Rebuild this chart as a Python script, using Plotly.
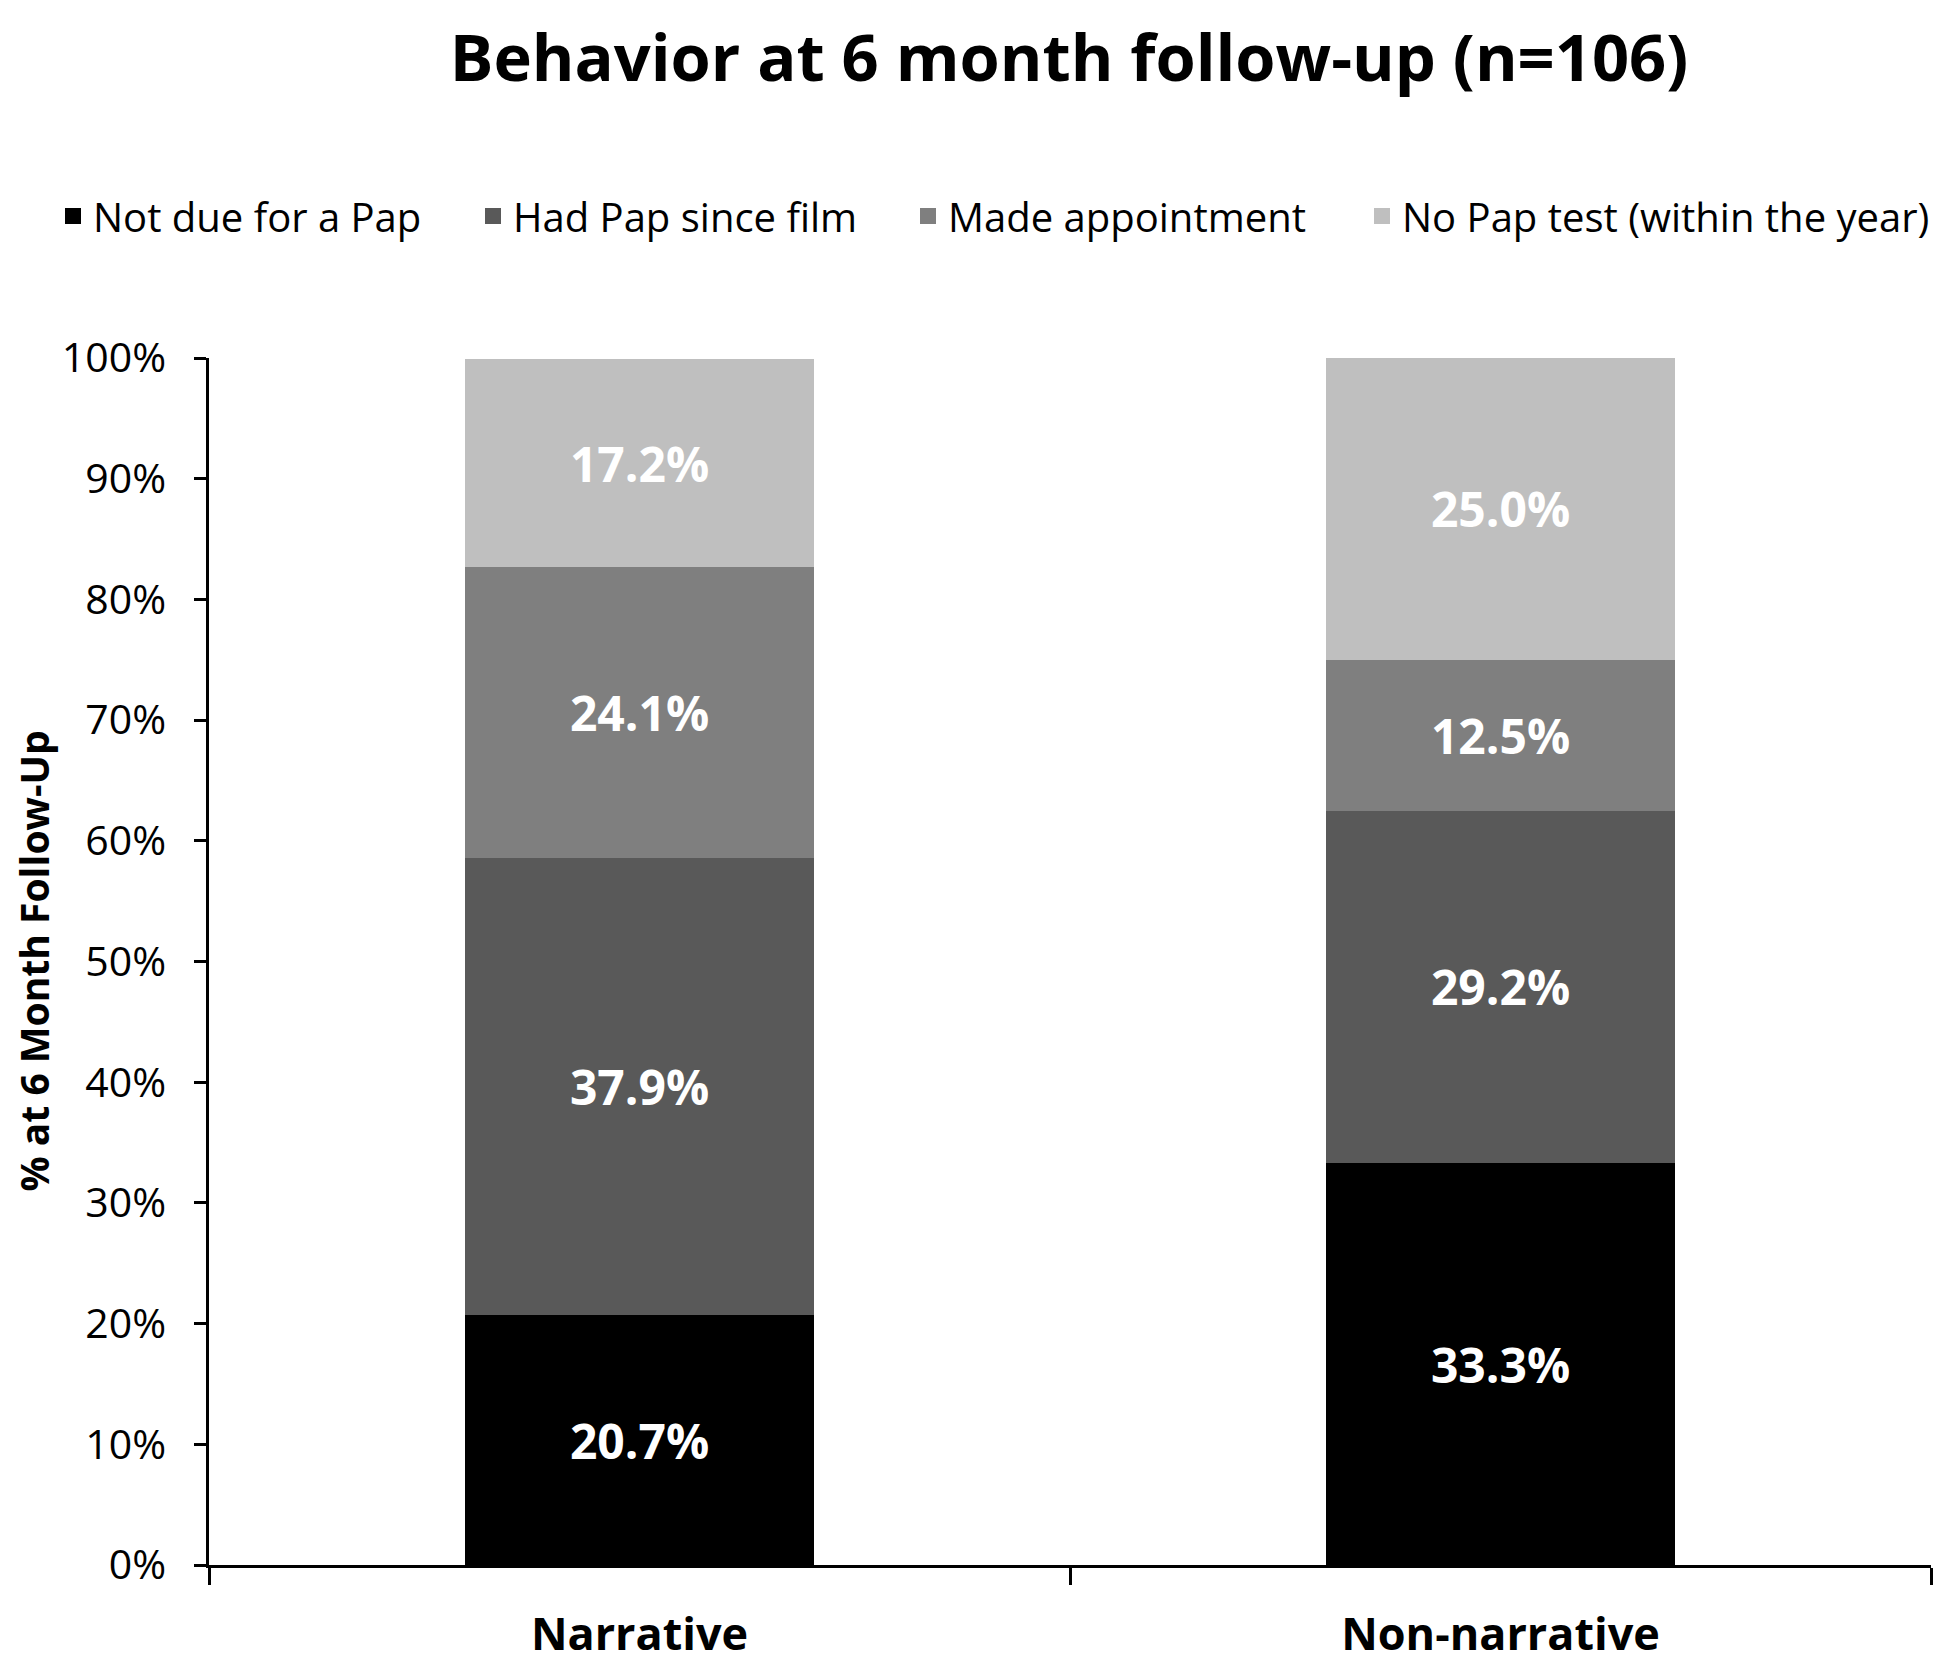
import plotly.graph_objects as go

categories = ["Narrative", "Non-narrative"]
series_names = ["Not due for a Pap", "Had Pap since film", "Made appointment", "No Pap test (within the year)"]
not_due = [20.7, 33.3]
had_pap = [37.9, 29.2]
made_appt = [24.1, 12.5]
no_pap = [17.2, 25.0]
colors = ["#000000", "#595959", "#7f7f7f", "#bfbfbf"]
y_ticks = [0, 10, 20, 30, 40, 50, 60, 70, 80, 90, 100]

FONT = "Open Sans"
OFF = 8  # default body margin of the html page
W, H = 1950 - OFF, 1662 - OFF
L, R, T, B = 209 - OFF, 19, 358 - OFF, 97
PW = W - L - R

legend_ids = ["legend", "legend2", "legend3", "legend4"]
legend_left = [53, 473, 908, 1362]  # page px of each legend entry

fig = go.Figure()
for name, vals, col in zip(series_names, [not_due, had_pap, made_appt, no_pap], colors):
    fig.add_trace(go.Bar(
        x=categories, y=vals, name=name, showlegend=False,
        marker=dict(color=col, line=dict(width=0)),
        width=0.405,
        text=[f"{v:.1f}%" for v in vals],
        textposition="inside", insidetextanchor="middle",
        textfont=dict(family=FONT, size=48, color="white", weight="bold"),
        textangle=0,
    ))
# legend entries with larger square swatches, one legend per entry
for name, col, lid in zip(series_names, colors, legend_ids):
    fig.add_trace(go.Scatter(
        x=[None], y=[None], mode="markers", name=name, legend=lid,
        marker=dict(symbol="square", size=16, color=col),
        showlegend=True,
    ))

layout_legends = {}
for lid, left in zip(legend_ids, legend_left):
    layout_legends[lid] = dict(
        orientation="h", xref="container", yref="container",
        x=(left - OFF) / W, xanchor="left", y=1 - (216 - OFF) / H, yanchor="middle",
        font=dict(family=FONT, size=40, color="black"),
        itemsizing="trace", itemwidth=30, bgcolor="rgba(0,0,0,0)",
    )

fig.update_layout(
    barmode="stack",
    width=W, height=H,
    paper_bgcolor="white", plot_bgcolor="white",
    margin=dict(l=L, r=R, t=T, b=B),
    title=dict(text="<b>Behavior at 6 month follow-up (n=106)</b>",
               font=dict(family=FONT, size=65, color="black"),
               x=(1069 - OFF) / W, xanchor="center", y=1 - (58 - OFF) / H, yanchor="middle", yref="container"),
    showlegend=True,
    annotations=[dict(text="<b>% at 6 Month Follow-Up</b>", textangle=-90,
                      xref="paper", yref="paper", x=(33 - OFF - L) / PW, y=0.5,
                      xanchor="center", yanchor="middle", showarrow=False,
                      font=dict(family=FONT, size=39, color="black"))],
    **layout_legends,
)
fig.update_yaxes(range=[0, 100], tickvals=y_ticks, ticktext=[f"{v}%" for v in y_ticks],
                 showgrid=False, zeroline=False, showline=True, linecolor="black", linewidth=2.5,
                 ticks="outside", ticklen=12, tickwidth=2.5, tickcolor="black",
                 tickfont=dict(family=FONT, size=41, color="black"), ticklabelstandoff=20,
                 automargin=False)
fig.update_xaxes(showgrid=False, showline=True, linecolor="black", linewidth=2.5,
                 ticks="outside", ticklen=17, tickwidth=2.5, tickcolor="black", tickson="boundaries",
                 automargin=False,
                 tickfont=dict(family=FONT, size=45, color="black", weight="bold"), ticklabelstandoff=28)

fig.write_html("out.html")
